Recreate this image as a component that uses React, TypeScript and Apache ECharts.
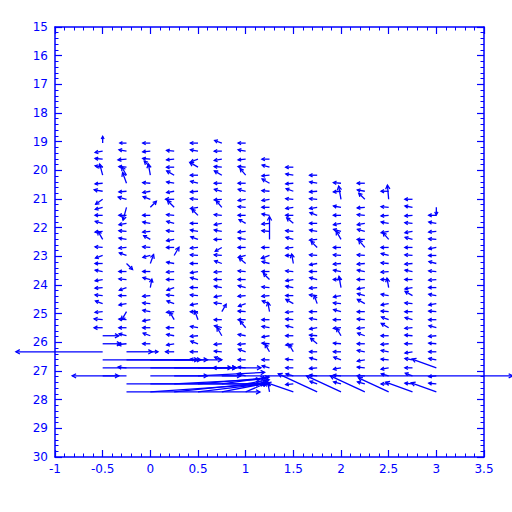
import React, { useEffect, useRef } from "react";
import * as echarts from "echarts";

type V = [number, number] | null; // [direction deg (0 = east, 90 = up), speed in x-units]

const xCols = [-0.5, -0.25, 0, 0.25, 0.5, 0.75, 1, 1.25, 1.5, 1.75, 2, 2.25, 2.5, 2.75, 3];
const depths = [19.05, 19.33, 19.61, 19.89, 20.17, 20.45, 20.73, 21.01, 21.29, 21.57, 21.85, 22.13, 22.41, 22.69, 22.97, 23.25,
  23.53, 23.81, 24.09, 24.37, 24.65, 24.93, 25.21, 25.49, 25.77, 26.05, 26.33, 26.61, 26.89, 27.17, 27.45, 27.73];
const colStart = [0, 0, 0, 1, 0, 0, 0, 2, 3, 4, 5, 5, 6, 7, 8];

const colM050: V[] = [[90,.07],[190,.08],[175,.08],[170,.08],[105,.12],[185,.08],[170,.09],[215,.09],[195,.08],[180,.08],[165,.08],[185,.08],[120,.1],[175,.08],[200,.08],[180,.08],[170,.08],[190,.08],[185,.08],[175,.08],[160,.08],[185,.08],[175,.09],[180,.09],[0,.17],[0,.19],[180,.91],[0,1.1],[0,1.66],[0,.17],null,null];
const colM025: V[] = [[180,.07],[170,.08],[185,.09],[175,.08],[120,.1],[110,.12],[185,.08],[165,.09],[255,.14],[180,.08],[190,.08],[175,.08],[170,.08],[185,.08],[160,.08],[315,.09],[180,.08],[175,.08],[200,.08],[180,.08],[190,.08],[240,.1],[175,.08],[180,.08],[165,.08],[185,.09],[0,.27],[0,.78],[175,.09],[180,.57],[0,1.4],[0,1.4]];
const col000: V[] = [[180,.08],[185,.08],[175,.08],[135,.09],[100,.12],[175,.08],[190,.08],[160,.08],[45,.09],[180,.08],[170,.08],[185,.08],[150,.08],[175,.08],[195,.08],[70,.1],[180,.08],[165,.08],[80,.09],[185,.08],[175,.08],[170,.08],[190,.08],[180,.08],[160,.08],[180,.08],[0,.08],[0,.5],[0,.9],[0,.6],[0,1.2],[4,1.23]];
const col025: V[] = [[175,.08],[185,.08],[180,.08],[150,.09],[170,.08],[190,.08],[180,.09],[135,.1],[175,.08],[165,.08],[175,.08],[190,.08],[180,.08],[60,.1],[170,.08],[185,.08],[180,.08],[200,.08],[175,.08],[160,.08],[185,.08],[120,.09],[180,.08],[170,.08],[190,.08],[180,.09],[0,.5],[0,.6],[0,.7],[3,.9],[6,.98]];
const col050: V[] = [[180,.08],[170,.08],[200,.08],[150,.1],[180,.08],[165,.08],[185,.08],[175,.08],[190,.08],[135,.09],[180,.08],[170,.08],[160,.08],[185,.08],[175,.08],[180,.08],[190,.08],[165,.08],[180,.08],[175,.08],[190,.08],[180,.08],[110,.1],[170,.08],[185,.08],[160,.08],[180,.08],[175,.08],[0,.4],[3,.7],[5,.7],[7,.73]];
const col075: V[] = [[160,.08],[180,.08],[190,.08],[175,.08],[150,.09],[180,.08],[165,.08],[185,.08],[130,.09],[175,.08],[190,.08],[170,.08],[180,.08],[210,.08],[175,.08],[160,.08],[185,.08],[180,.08],[170,.08],[190,.08],[175,.08],[60,.09],[180,.08],[165,.08],[120,.1],[185,.08],[175,.08],[160,.08],[180,.09],[0,3.05],[8,.5],[11,.48]];
const col100: V[] = [[180,.08],[170,.08],[185,.08],[175,.08],[130,.09],[180,.08],[165,.08],[190,.08],[175,.08],[180,.08],[150,.08],[185,.08],[170,.08],[180,.08],[195,.08],[140,.09],[175,.08],[180,.08],[165,.08],[185,.08],[200,.08],[175,.08],[180,.08],[130,.09],[170,.08],[185,.08],[160,.08],[180,.08],[175,.08],[165,.09],[10,.25],[23,.24]];
const col125: V[] = [[180,.08],[165,.08],[185,.08],[150,.09],[175,.08],[190,.08],[180,.08],[170,.08],[185,.08],[175,.08],[90,.24],[180,.08],[200,.09],[165,.08],[180,.08],[135,.09],[175,.08],[185,.08],[160,.08],[100,.1],[180,.08],[170,.08],[190,.08],[175,.08],[120,.09],[180,.08],[165,.08],[200,.09],[150,.05],[100,.1]];
const col150: V[] = [[180,.08],[170,.08],[185,.08],[160,.08],[175,.08],[190,.08],[180,.08],[140,.09],[175,.08],[165,.08],[185,.08],[180,.08],[100,.1],[175,.08],[190,.08],[170,.08],[180,.08],[150,.09],[185,.08],[175,.08],[165,.08],[180,.08],[190,.08],[120,.09],[175,.08],[180,.08],[165,.08],[185,.08],[161,.29]];
const col175: V[] = [[180,.08],[170,.08],[185,.08],[175,.08],[190,.08],[160,.08],[180,.08],[170,.08],[185,.08],[135,.09],[175,.08],[190,.08],[180,.08],[165,.08],[185,.08],[175,.08],[110,.09],[180,.08],[170,.08],[190,.08],[175,.08],[140,.09],[180,.08],[165,.08],[185,.08],[175,.08],[160,.08],[155,.45]];
const col200: V[] = [[175,.08],[185,.08],[100,.14],[170,.08],[180,.08],[190,.08],[165,.08],[120,.1],[180,.08],[175,.08],[185,.08],[170,.08],[180,.08],[100,.12],[190,.08],[175,.08],[165,.08],[180,.08],[185,.08],[120,.09],[175,.08],[180,.08],[160,.08],[190,.08],[175,.08],[165,.08],[155,.4]];
const col225: V[] = [[180,.08],[170,.08],[135,.09],[185,.08],[175,.08],[190,.08],[165,.08],[180,.08],[130,.1],[175,.08],[185,.08],[170,.08],[180,.08],[190,.08],[165,.08],[150,.09],[180,.08],[175,.08],[185,.08],[160,.08],[180,.08],[170,.08],[190,.08],[175,.08],[180,.08],[165,.08],[155,.4]];
const col250: V[] = [[180,.08],[95,.15],[175,.08],[185,.08],[170,.08],[190,.08],[130,.09],[180,.08],[165,.08],[175,.08],[185,.08],[180,.08],[100,.1],[170,.08],[190,.08],[175,.08],[160,.08],[150,.09],[180,.08],[185,.08],[170,.08],[175,.08],[190,.08],[165,.08],[180,.08],[155,.35]];
const col275: V[] = [[180,.08],[170,.08],[185,.08],[175,.08],[190,.08],[165,.08],[180,.08],[175,.08],[185,.08],[170,.08],[180,.08],[190,.08],[150,.09],[175,.08],[180,.08],[165,.08],[185,.08],[175,.08],[180,.08],[190,.08],[170,.08],[180,.08],[160,.08],[175,.08],[160,.3]];
const col300: V[] = [[270,.08],[180,.08],[170,.08],[185,.08],[175,.08],[190,.08],[180,.08],[165,.08],[175,.08],[185,.08],[180,.08],[170,.08],[190,.08],[175,.08],[180,.08],[165,.08],[185,.08],[175,.08],[180,.08],[170,.08],[160,.27],[185,.08],[175,.08],[160,.28]];

const columns: V[][] = [colM050, colM025, col000, col025, col050, col075, col100, col125, col150, col175, col200, col225, col250, col275, col300];

const xTickMin = -1, xTickMax = 3.5, xTickStep = 0.5;
const yTickMin = 15, yTickMax = 30, yTickStep = 1;

const BLUE = "#0000ff";

function buildData(): number[][] {
  const out: number[][] = [];
  columns.forEach((col, ci) => {
    col.forEach((v, k) => {
      if (!v) return;
      const di = colStart[ci] + k;
      if (di >= depths.length) return;
      out.push([xCols[ci], depths[di], v[0], v[1]]);
    });
  });
  return out;
}

export default function App() {
  const ref = useRef<HTMLDivElement>(null);
  useEffect(() => {
    document.body.style.margin = "0";
    const chart = echarts.init(ref.current!, undefined, { renderer: "svg" });
    const axisCommon = {
      type: "value" as const,
      axisLine: { show: true, onZero: false, lineStyle: { color: BLUE, width: 1.5 } },
      axisTick: { show: true, inside: true, length: 7, lineStyle: { color: BLUE, width: 1.2 } },
      minorTick: { show: true, splitNumber: 5, length: 3.5, lineStyle: { color: BLUE, width: 1 } },
      splitLine: { show: false },
    };
    const labelStyle = { color: BLUE, fontSize: 12, fontFamily: "DejaVu Sans", fontWeight: "normal" as const };
    chart.setOption({
      animation: false,
      backgroundColor: "#ffffff",
      grid: { left: 55, right: 28, top: 27, bottom: 55 },
      xAxis: [
        { ...axisCommon, position: "bottom", min: xTickMin, max: xTickMax, interval: xTickStep, axisLabel: { ...labelStyle, margin: 6 } },
        { ...axisCommon, position: "top", min: xTickMin, max: xTickMax, interval: xTickStep, axisLabel: { show: false } },
      ],
      yAxis: [
        { ...axisCommon, position: "left", inverse: true, min: yTickMin, max: yTickMax, interval: yTickStep, axisLabel: { ...labelStyle, margin: 7 } },
        { ...axisCommon, position: "right", inverse: true, min: yTickMin, max: yTickMax, interval: yTickStep, axisLabel: { show: false } },
      ],
      series: [
        {
          type: "custom",
          xAxisIndex: 0,
          yAxisIndex: 0,
          clip: false,
          data: buildData(),
          renderItem: (params: any, api: any) => {
            const x = api.value(0), y = api.value(1), dir = api.value(2), spd = api.value(3);
            const p = api.coord([x, y]);
            const L = api.size([spd, 0])[0];
            const a = (dir * Math.PI) / 180;
            const hx = p[0] + L * Math.cos(a);
            const hy = p[1] - L * Math.sin(a);
            const b = Math.min(4.5, Math.max(3, L * 0.45));
            const back = a + Math.PI;
            const b1 = [hx + b * Math.cos(back + 0.5), hy - b * Math.sin(back + 0.5)];
            const b2 = [hx + b * Math.cos(back - 0.5), hy - b * Math.sin(back - 0.5)];
            return {
              type: "group",
              children: [
                { type: "line", shape: { x1: p[0], y1: p[1], x2: hx, y2: hy }, style: { stroke: BLUE, lineWidth: 1.3 } },
                { type: "polyline", shape: { points: [b1, [hx, hy], b2] }, style: { stroke: BLUE, fill: "none", lineWidth: 1.3 } },
              ],
            };
          },
        },
      ],
    });
    return () => chart.dispose();
  }, []);
  return <div ref={ref} style={{ position: "absolute", left: 0, top: 0, width: 512, height: 512 }} />;
}
